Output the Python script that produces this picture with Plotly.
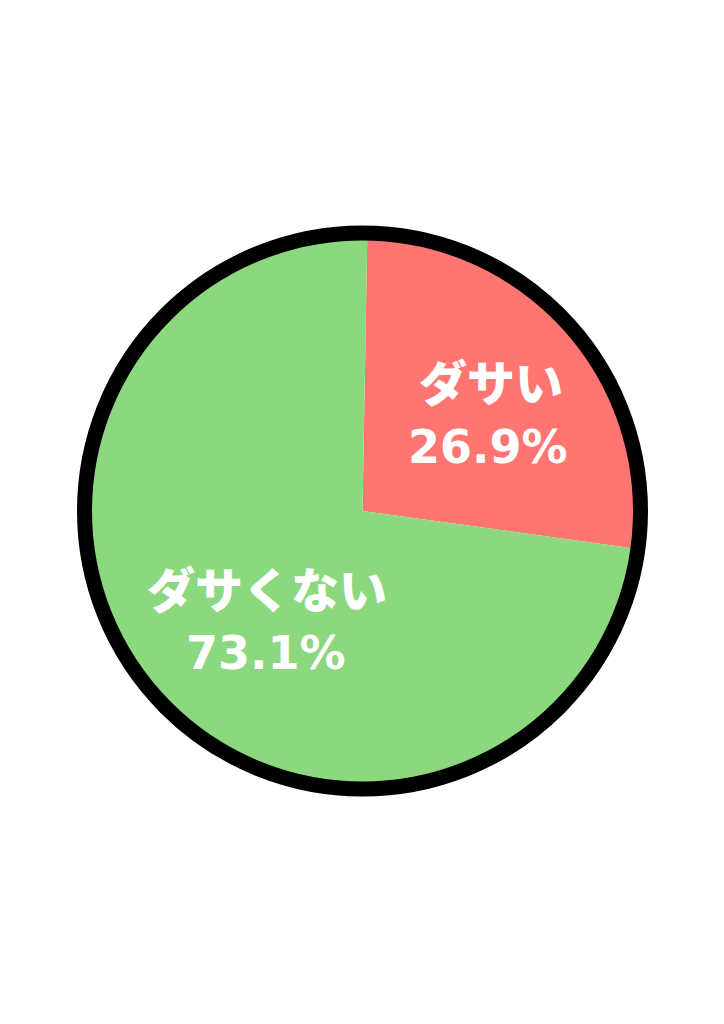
import plotly.graph_objects as go

# data
labels = ["ダサい", "ダサくない"]
values = [26.9, 73.1]
colors = ["#FF7571", "#8BD87F"]

W, H = 724, 1024
OFF = 8  # page body margin offsets the figure by 8px
cx, cy, r = 362.5 - OFF, 511 - OFF, 278  # pie center / radius in px

x0, x1 = (cx - r) / W, (cx + r) / W
y0, y1 = (H - cy - r) / H, (H - cy + r) / H

fig = go.Figure(go.Pie(
    labels=labels,
    values=values,
    sort=False,
    direction="clockwise",
    rotation=1,
    marker=dict(colors=colors, line=dict(width=0)),
    textinfo="none",
    hoverinfo="label+percent",
    domain=dict(x=[x0, x1], y=[y0, y1]),
))

# black ring round the pie
fig.add_shape(type="circle", xref="paper", yref="paper",
              x0=x0, x1=x1, y0=y0, y1=y1,
              line=dict(color="black", width=15))

# label positions (px): name line, value line
label_pos = [((491, 380), (488, 447)), ((267, 587), (266, 653))]
name_font = dict(family="Noto Sans CJK JP", size=48, color="white", weight=900)
val_font = dict(family="DejaVu Sans", size=46, color="white", weight="bold")
for lab, val, (p_name, p_val) in zip(labels, values, label_pos):
    for txt, (px, py), f in ((lab, p_name, name_font),
                             (f"{val:.1f}%", p_val, val_font)):
        fig.add_annotation(text=txt, x=(px - OFF) / W, y=(H - py + OFF) / H,
                           xref="paper", yref="paper", showarrow=False,
                           xanchor="center", yanchor="middle", font=f)

fig.update_layout(
    width=W, height=H,
    margin=dict(l=0, r=0, t=0, b=0),
    paper_bgcolor="white",
    plot_bgcolor="white",
    showlegend=False,
)

fig.write_html("out.html")
